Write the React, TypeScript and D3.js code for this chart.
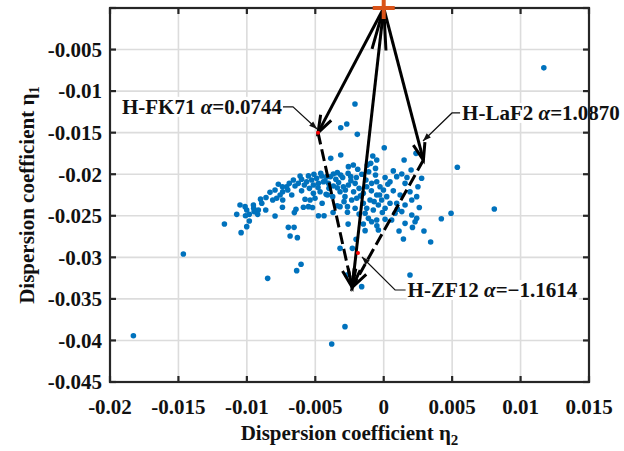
import React, { useLayoutEffect, useRef, useState } from "react";
import * as d3 from "d3";

const W = 624;
const H = 451;
const margin = { top: 8, right: 35, bottom: 69, left: 110 };

const xTicks = [-0.02, -0.015, -0.01, -0.005, 0, 0.005, 0.01, 0.015];
const xTickLabels = ["-0.02", "-0.015", "-0.01", "-0.005", "0", "0.005", "0.01", "0.015"];
const yTicks = [-0.045, -0.04, -0.035, -0.03, -0.025, -0.02, -0.015, -0.01, -0.005, 0];
const yTickLabels = ["-0.045", "-0.04", "-0.035", "-0.03", "-0.025", "-0.02", "-0.015", "-0.01", "-0.005", ""];

// glass samples: [eta2, eta1]
const glassPoints: [number, number][] = [
  [0.0117, -0.0072],
  [-0.0021, -0.01155], [-0.0027, -0.01396], [-0.00314, -0.0144], [-0.00193, -0.0152], [0.00004, -0.01681],
  [-0.00314, -0.01769], [-0.00387, -0.01809], [-0.0008, -0.01781], [0.00149, -0.01829], [0.00236, -0.01749],
  [-0.00051, -0.01829], [-0.00095, -0.01869],
  [-0.00611, -0.02021], [-0.00624, -0.0211], [-0.00648, -0.02142], [-0.00709, -0.0215], [-0.0074, -0.0215],
  [-0.00738, -0.0221], [-0.00794, -0.0219], [-0.00831, -0.02218], [-0.00811, -0.0231], [-0.00738, -0.0231],
  [-0.00782, -0.0229], [-0.00672, -0.0225], [-0.00701, -0.0219], [-0.00757, -0.0225], [-0.00563, -0.0209],
  [-0.00526, -0.0207], [-0.0049, -0.02049], [-0.00453, -0.02021], [-0.00416, -0.02029], [-0.00368, -0.01997],
  [-0.00339, -0.01981], [-0.00314, -0.02009], [-0.00258, -0.01909], [-0.00222, -0.01889], [-0.00241, -0.02029],
  [-0.00209, -0.0211], [-0.00258, -0.0213], [-0.00295, -0.0215], [-0.00339, -0.02162], [-0.00368, -0.02142],
  [-0.00404, -0.0211], [-0.00441, -0.0209], [-0.00477, -0.0211], [-0.00514, -0.0213], [-0.00543, -0.0217],
  [-0.00575, -0.02302], [-0.00538, -0.0231], [-0.00502, -0.0229], [-0.00514, -0.0223], [-0.00465, -0.0221],
  [-0.00421, -0.02242], [-0.00373, -0.0227], [-0.00319, -0.0221], [-0.00283, -0.0227], [-0.00234, -0.0231],
  [-0.00197, -0.0229], [-0.00149, -0.0223], [-0.00124, -0.0215], [-0.00088, -0.0211], [-0.00051, -0.0209],
  [-0.00027, -0.0215], [-0.00002, -0.0219], [0.00022, -0.0227], [0.00046, -0.0235], [0.0001, -0.0241],
  [-0.00039, -0.0237], [-0.00076, -0.0243], [-0.00124, -0.0241], [-0.00149, -0.0235], [-0.001, -0.0231],
  [-0.00051, -0.0225], [-0.00015, -0.0231], [0.00046, -0.0209], [0.00095, -0.02029], [0.00132, -0.01997],
  [0.00156, -0.0211], [0.00192, -0.0221], [0.00241, -0.0227], [0.00205, -0.0231], [0.00156, -0.0237],
  [0.00095, -0.0235], [0.00083, -0.0247], [0.00132, -0.0245], [0.00205, -0.02491], [0.00241, -0.02531],
  [-0.0105, -0.0237], [-0.01013, -0.0239], [-0.01001, -0.0243], [-0.00952, -0.0237], [-0.00947, -0.0245],
  [-0.00916, -0.0243], [-0.00891, -0.0235], [-0.00862, -0.0243], [-0.01074, -0.02483], [-0.00982, -0.02483],
  [-0.00921, -0.02483],
  [-0.00794, -0.02503], [-0.0074, -0.02398], [-0.00653, -0.02462], [-0.00641, -0.02422], [-0.00587, -0.02398],
  [-0.0055, -0.0239], [-0.00477, -0.02499], [-0.00436, -0.02499], [-0.00319, -0.0239], [-0.00265, -0.02458],
  [-0.00265, -0.0239], [-0.00209, -0.0241], [-0.00136, -0.0247], [-0.00112, -0.02531], [-0.00051, -0.02551],
  [-0.00088, -0.02571], [-0.00149, -0.02599], [-0.00136, -0.02679], [-0.00039, -0.02671], [0.0001, -0.02543],
  [0.00058, -0.02551], [0.00112, -0.02683], [0.00156, -0.02591], [0.00229, -0.02571], [0.00144, -0.02779],
  [-0.01164, -0.02599], [-0.01042, -0.02703], [-0.01001, -0.02631], [-0.00982, -0.02563], [-0.00697, -0.02639],
  [-0.00655, -0.02639], [-0.00684, -0.02743], [-0.00631, -0.02763], [-0.00319, -0.02892], [-0.00229, -0.02892],
  [-0.00202, -0.02783],
  [-0.01464, -0.0296], [-0.01829, -0.03943], [-0.00848, -0.03253], [-0.00636, -0.0316], [-0.00604, -0.03084],
  [-0.00283, -0.03834], [-0.0038, -0.04043], [-0.0027, -0.03213], [-0.00161, -0.03353], [0.00192, -0.03213],
  [0.00277, -0.02049], [0.00294, -0.02683], [0.00343, -0.02815], [0.00421, -0.02535], [0.00492, -0.0247],
  [0.00808, -0.02418], [0.00538, -0.01917],
  [-0.006, -0.0206], [-0.0058, -0.0213], [-0.0055, -0.0202], [-0.0051, -0.02], [-0.0048, -0.0216],
  [-0.0046, -0.0199], [-0.0043, -0.0208], [-0.004, -0.0217], [-0.0039, -0.0203], [-0.0035, -0.0206],
  [-0.0033, -0.021], [-0.003, -0.0204], [-0.0028, -0.0219], [-0.0026, -0.0199], [-0.0024, -0.0208],
  [-0.002, -0.0204], [-0.0018, -0.0217], [-0.0016, -0.02], [-0.0013, -0.0207], [-0.0011, -0.0197],
  [-0.0009, -0.022], [-0.0006, -0.0201], [-0.0003, -0.0225], [0.0001, -0.0204], [0.0003, -0.0212],
  [0.0007, -0.022], [-0.0017, -0.0226], [-0.0022, -0.0221], [-0.0041, -0.0225], [-0.006, -0.022],
  [-0.0066, -0.0207], [-0.0069, -0.0211], [-0.0077, -0.0212], [-0.0086, -0.0228], [-0.009, -0.023],
  [-0.0095, -0.0241], [-0.0101, -0.025], [-0.0012, -0.0189], [-0.0019, -0.0194], [-0.0006, -0.0193],
  [0.0007, -0.0196], [0.0012, -0.0225], [0.0017, -0.0204], [0.002, -0.0195], [0.0025, -0.0215],
  [0.0026, -0.024], [0.0021, -0.0264], [-0.0001, -0.0246], [-0.0007, -0.0233], [-0.0018, -0.0248],
  [-0.0029, -0.0233], [-0.0034, -0.0238], [-0.0037, -0.0246], [-0.0045, -0.0235], [-0.0052, -0.024],
  [-0.0005, -0.0262], [-0.0026, -0.026], [0.001, -0.0242],
];

// key glasses
const origin: [number, number] = [0, 0];
const fk71: [number, number] = [-0.0048, -0.015];
const laf2: [number, number] = [0.0029, -0.0183];
const zf12: [number, number] = [-0.0023, -0.0336];
const redPoints: [number, number][] = [fk71, [-0.00188, -0.02948]];

const solidArrows = [
  { from: origin, to: fk71, head: 17, back: 0 },
  { from: origin, to: laf2, head: 17, back: 0 },
  { from: origin, to: zf12, head: 18, back: 42 },
];
const dashedArrows = [
  { from: fk71, to: zf12, head: 18 },
  { from: laf2, to: zf12, head: 18 },
];

const callouts = [
  { name: "H-FK71", alpha: "=0.0744", anchor: "end", line: [[-0.00736, -0.0119], [-0.00663, -0.0119], [-0.00487, -0.01456]] },
  { name: "H-LaF2", alpha: "=1.0870", anchor: "start", line: [[0.00558, -0.01263], [0.00499, -0.01263], [0.00287, -0.016]] },
  { name: "H-ZF12", alpha: "=\u22121.1614", anchor: "start", line: [[0.0016, -0.03393], [0.00083, -0.03393], [-0.00159, -0.02996]] },
];

const font = "'Liberation Serif', 'Times New Roman', serif";

const x = d3.scaleLinear().domain([-0.02, 0.015]).range([margin.left, W - margin.right]);
const y = d3.scaleLinear().domain([-0.045, 0]).range([H - margin.bottom, margin.top]);

function headPath(tx: number, ty: number, fx: number, fy: number, len: number, hw: number) {
  const dx = tx - fx, dy = ty - fy;
  const d = Math.hypot(dx, dy);
  const ux = dx / d, uy = dy / d;
  const bx = tx - ux * len, by = ty - uy * len;
  return `M${bx - uy * hw},${by + ux * hw}L${tx},${ty}L${bx + uy * hw},${by - ux * hw}`;
}

function Callout({ c }: { c: typeof callouts[number] }) {
  const ref = useRef<SVGTextElement>(null);
  const [box, setBox] = useState<DOMRect | null>(null);
  useLayoutEffect(() => {
    if (ref.current) setBox(ref.current.getBBox());
  }, []);
  const pts = c.line.map(p => [x(p[0]), y(p[1])]);
  const line = d3.line()(pts as [number, number][]);
  const last = pts[pts.length - 1], prev = pts[pts.length - 2];
  const tx = c.anchor === "end" ? pts[0][0] - 1 : pts[0][0] + 2;
  return (
    <g>
      {box && <rect x={box.x - 1} y={box.y + 2} width={box.width + 2} height={box.height - 4} fill="white" />}
      <text ref={ref} x={tx} y={pts[0][1]} dy="0.33em" textAnchor={c.anchor as any}
        fontFamily={font} fontWeight="bold" fontSize={21} fill="#111">
        {c.name + " "}<tspan fontStyle="italic">α</tspan>{c.alpha}
      </text>
      <path d={line || ""} fill="none" stroke="#111" strokeWidth={1.2} />
      <path d={headPath(last[0], last[1], prev[0], prev[1], 8, 3) + "Z"} fill="#111" />
    </g>
  );
}

export default function App() {
  const x0 = margin.left, x1 = W - margin.right, y0 = margin.top, y1 = H - margin.bottom;
  const tick = 6;
  return (
    <div style={{ position: "absolute", left: 0, top: 0 }}>
      <svg width={W} height={H} style={{ display: "block", background: "white" }}>
        <rect x={0} y={0} width={W} height={H} fill="white" />
        {/* grid */}
        <g stroke="#dcdcdc" strokeWidth={1.6}>
          {xTicks.map(t => <line key={"gx" + t} x1={x(t)} x2={x(t)} y1={y0} y2={y1} />)}
          {yTicks.map(t => <line key={"gy" + t} x1={x0} x2={x1} y1={y(t)} y2={y(t)} />)}
        </g>
        {/* samples */}
        <g fill="#0072BD">
          {glassPoints.map((p, i) => <circle key={i} cx={x(p[0])} cy={y(p[1])} r={2.8} />)}
        </g>
        {/* dashed arrows */}
        <g stroke="#000" strokeWidth={3} fill="none">
          {dashedArrows.map((a, i) => {
            const fx = x(a.from[0]), fy = y(a.from[1]), tx = x(a.to[0]), ty = y(a.to[1]);
            return (
              <g key={"d" + i}>
                <line x1={fx} y1={fy} x2={tx} y2={ty} strokeDasharray="12 5" />
                <path d={headPath(tx, ty, fx, fy, a.head, 6)} strokeLinejoin="miter" />
              </g>
            );
          })}
          {solidArrows.map((a, i) => {
            const fx = x(a.from[0]), fy = y(a.from[1]), tx = x(a.to[0]), ty = y(a.to[1]);
            return (
              <g key={"s" + i}>
                <line x1={fx} y1={fy} x2={tx} y2={ty} />
                <path d={headPath(tx, ty, fx, fy, a.head, 6)} strokeLinejoin="miter" />
                {a.back > 0 && <path d={headPath(fx, fy, tx, ty, a.back, 7)} strokeLinejoin="miter" />}
              </g>
            );
          })}
        </g>
        <g fill="#ff0000">
          {redPoints.map((p, i) => <circle key={i} cx={x(p[0])} cy={y(p[1])} r={2} />)}
        </g>
        {callouts.map(c => <Callout key={c.name} c={c} />)}
        {/* box and ticks */}
        <g stroke="#262626" strokeWidth={2.2} fill="none">
          <rect x={x0} y={y0} width={x1 - x0} height={y1 - y0} />
          {xTicks.map(t => (
            <g key={"tx" + t}>
              <line x1={x(t)} x2={x(t)} y1={y1} y2={y1 - tick} />
              <line x1={x(t)} x2={x(t)} y1={y0} y2={y0 + tick} />
            </g>
          ))}
          {yTicks.map(t => (
            <g key={"ty" + t}>
              <line x1={x0} x2={x0 + tick} y1={y(t)} y2={y(t)} />
              <line x1={x1} x2={x1 - tick} y1={y(t)} y2={y(t)} />
            </g>
          ))}
        </g>
        {/* origin marker */}
        <g stroke="#D95319" strokeWidth={4}>
          <line x1={x(origin[0]) - 11} x2={x(origin[0]) + 11} y1={y(origin[1])} y2={y(origin[1])} />
          <line x1={x(origin[0])} x2={x(origin[0])} y1={y(origin[1]) - 11} y2={y(origin[1]) + 11} />
        </g>
        {/* tick labels */}
        <g fontFamily={font} fontWeight="bold" fontSize={21} fill="#111">
          {xTicks.map((t, i) => (
            <text key={"lx" + t} x={x(t)} y={y1 + 32} textAnchor="middle">{xTickLabels[i]}</text>
          ))}
          {yTicks.map((t, i) => (
            <text key={"ly" + t} x={x0 - 8} y={y(t)} dy="0.35em" textAnchor="end">{yTickLabels[i]}</text>
          ))}
        </g>
        {/* axis titles */}
        <text x={(x0 + x1) / 2} y={H - 11} textAnchor="middle" fontFamily={font} fontWeight="bold" fontSize={21} fill="#111">
          Dispersion coefficient η<tspan dy={5} fontSize={15}>2</tspan>
        </text>
        <text transform={`translate(34,${(y0 + y1) / 2}) rotate(-90)`} textAnchor="middle" fontFamily={font} fontWeight="bold" fontSize={21} fill="#111">
          Dispersion coefficient η<tspan dy={5} fontSize={15}>1</tspan>
        </text>
      </svg>
    </div>
  );
}
